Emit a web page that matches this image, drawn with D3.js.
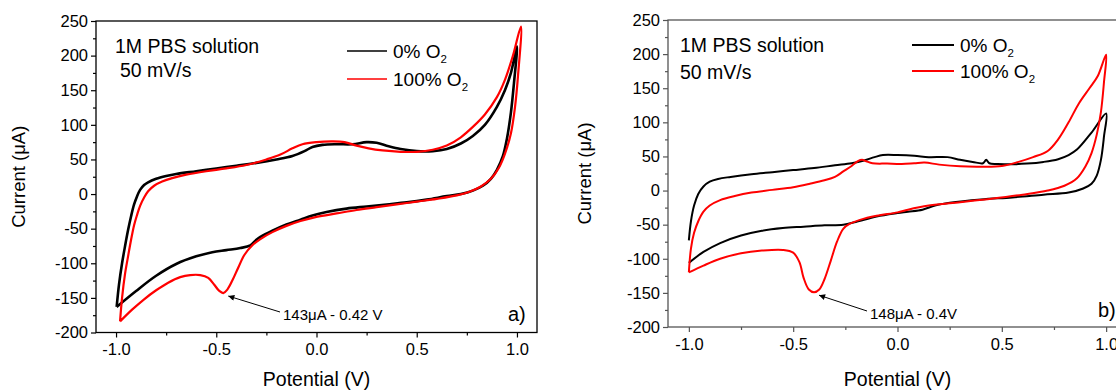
<!DOCTYPE html>
<html>
<head>
<meta charset="utf-8">
<script src="https://cdn.jsdelivr.net/npm/d3@7"></script>
<style>
  body { margin: 0; background: #fff; }
  svg { display: block; font-family: "Liberation Sans", Arial, sans-serif; }
</style>
</head>
<body>
<div id="area"></div>
<script>
// tick values shared by both panels
var xTicks = [-1.0, -0.5, 0.0, 0.5, 1.0];
var xMinor = [-0.75, -0.25, 0.25, 0.75];
var yTicks = [-200, -150, -100, -50, 0, 50, 100, 150, 200, 250];
var yMinor = [-175, -125, -75, -25, 25, 75, 125, 175, 225];

var seriesNames = ["0% O", "100% O"];

// panel a) potential (V), current (uA), one closed sweep each
var a0 = [[-0.997,-163],[-0.985,-130],[-0.97,-100],[-0.955,-75],[-0.94,-52],[-0.925,-32],[-0.91,-15],[-0.895,-3],[-0.88,6],[-0.86,13],[-0.84,17],[-0.8,22],[-0.75,26],[-0.7,29],[-0.6,33],[-0.5,37],[-0.4,41],[-0.3,45],[-0.2,50],[-0.12,55],[-0.06,62],[-0.02,68],[0.03,71],[0.1,72],[0.18,72],[0.25,75],[0.3,74],[0.36,69],[0.42,65],[0.5,62],[0.58,62],[0.65,65],[0.72,73],[0.78,84],[0.84,100],[0.9,126],[0.94,150],[0.97,175],[1.0,213],
  [0.985,160],[0.97,118],[0.95,80],[0.93,55],[0.9,35],[0.87,22],[0.83,12],[0.78,5],[0.72,0],[0.65,-3],[0.55,-8],[0.45,-12],[0.35,-15],[0.25,-18],[0.15,-21],[0.05,-26],[-0.02,-31],[-0.08,-37],[-0.15,-44],[-0.22,-53],[-0.28,-62],[-0.3,-66],[-0.33,-74],[-0.38,-78],[-0.45,-81],[-0.52,-84],[-0.6,-90],[-0.7,-101],[-0.8,-118],[-0.9,-140],[-0.997,-163]];
var a100 = [[-0.98,-184],[-0.97,-150],[-0.955,-115],[-0.94,-90],[-0.925,-66],[-0.91,-45],[-0.895,-30],[-0.88,-17],[-0.86,-5],[-0.84,4],[-0.81,12],[-0.77,18],[-0.72,23],[-0.65,28],[-0.55,33],[-0.45,37],[-0.35,42],[-0.25,50],[-0.18,57],[-0.12,66],[-0.07,72],[0.0,75],[0.08,76],[0.14,75],[0.2,70],[0.26,66],[0.33,63],[0.42,61],[0.5,61],[0.58,64],[0.65,70],[0.72,82],[0.78,97],[0.84,115],[0.9,140],[0.94,165],[0.98,200],[1.02,242],
  [1.005,170],[0.99,125],[0.97,88],[0.94,58],[0.91,38],[0.87,22],[0.82,11],[0.76,3],[0.7,-2],[0.6,-7],[0.5,-11],[0.4,-15],[0.3,-19],[0.2,-23],[0.1,-28],[0.0,-33],[-0.08,-39],[-0.15,-46],[-0.22,-55],[-0.28,-65],[-0.32,-74],[-0.36,-88],[-0.39,-106],[-0.42,-125],[-0.445,-138],[-0.465,-143],[-0.485,-140],[-0.51,-131],[-0.54,-121],[-0.58,-117],[-0.63,-117],[-0.68,-120],[-0.74,-128],[-0.8,-139],[-0.86,-152],[-0.92,-167],[-0.98,-184]];

// panel b)
var b0 = [[-1.0,-73],[-0.99,-45],[-0.975,-22],[-0.955,-5],[-0.93,6],[-0.9,13],[-0.86,17],[-0.8,20],[-0.7,24],[-0.6,27],[-0.5,30],[-0.4,33],[-0.3,37],[-0.22,40],[-0.16,44],[-0.11,49],[-0.07,52],[0.0,52],[0.08,51],[0.15,49],[0.24,49],[0.3,45],[0.36,42],[0.41,40],[0.425,45],[0.44,40],[0.48,39],[0.55,38.5],[0.62,39.5],[0.7,42],[0.77,46],[0.82,52],[0.86,60],[0.93,85],[1.0,113],
  [0.99,80],[0.975,45],[0.955,22],[0.93,10],[0.89,3],[0.82,-3],[0.7,-6],[0.55,-10],[0.4,-13],[0.25,-18],[0.18,-22],[0.12,-28],[0.05,-31],[0.0,-33],[-0.1,-38],[-0.2,-46],[-0.26,-50],[-0.35,-51],[-0.45,-53],[-0.55,-55],[-0.65,-59],[-0.75,-66],[-0.85,-77],[-0.93,-90],[-1.0,-106]];
var b100 = [[-1.0,-120],[-0.99,-85],[-0.975,-62],[-0.955,-45],[-0.93,-31],[-0.9,-22],[-0.85,-14],[-0.78,-8],[-0.7,-3],[-0.6,1],[-0.5,5],[-0.42,10],[-0.35,15],[-0.3,20],[-0.26,28],[-0.22,36],[-0.19,43],[-0.17,45],[-0.15,43],[-0.12,40],[-0.05,39.5],[0.02,39],[0.08,40],[0.13,41],[0.2,38],[0.3,35.5],[0.4,35],[0.5,36],[0.58,42],[0.65,49],[0.72,58],[0.77,75],[0.82,100],[0.87,128],[0.92,150],[0.96,168],[1.0,199],
  [0.99,160],[0.975,115],[0.955,82],[0.93,55],[0.9,35],[0.86,18],[0.8,7],[0.72,0],[0.6,-6],[0.45,-12],[0.3,-17],[0.15,-22],[0.05,-28],[0.0,-32],[-0.1,-37],[-0.18,-43],[-0.23,-49],[-0.26,-56],[-0.29,-75],[-0.32,-103],[-0.35,-130],[-0.375,-145],[-0.4,-149],[-0.425,-145],[-0.45,-128],[-0.47,-105],[-0.5,-91],[-0.55,-87],[-0.65,-88],[-0.75,-92],[-0.85,-100],[-0.93,-110],[-1.0,-120]];

// peaks pointed at by the arrows
var peakA = [-0.465, -143];
var peakB = [-0.4, -149];

var svg = d3.select("#area").append("svg")
  .attr("width", 1116)
  .attr("height", 392);

svg.append("defs").append("marker")
  .attr("id", "arrow")
  .attr("viewBox", "0 0 10 10")
  .attr("refX", 10).attr("refY", 5)
  .attr("markerWidth", 8).attr("markerHeight", 6)
  .attr("markerUnits", "userSpaceOnUse")
  .attr("orient", "auto")
  .append("path").attr("d", "M0,0L10,5L0,10z").attr("fill", "#000");

function drawPanel(p) {
  var x = d3.scaleLinear().domain([-1.1, 1.1]).range([p.left, p.right]);
  var y = d3.scaleLinear().domain([-200, 250]).range([p.bottom, p.top]);
  var g = svg.append("g");

  var lineGen = d3.line()
    .x(function (d) { return x(d[0]); })
    .y(function (d) { return y(d[1]); })
    .curve(d3.curveCatmullRom.alpha(0.5));

  g.append("path").datum(p.black)
    .attr("d", lineGen).attr("fill", "none")
    .attr("stroke", "#000").attr("stroke-width", p.bw).attr("stroke-linejoin", "round");
  g.append("path").datum(p.red)
    .attr("d", lineGen).attr("fill", "none")
    .attr("stroke", "#f00").attr("stroke-width", p.rw).attr("stroke-linejoin", "round");

  // frame
  g.append("rect")
    .attr("x", p.left).attr("y", p.top)
    .attr("width", p.right - p.left).attr("height", p.bottom - p.top)
    .attr("fill", "none").attr("stroke", p.axisColor).attr("stroke-width", 1.3);

  var xAxis = g.append("g").attr("transform", "translate(0," + p.bottom + ")")
    .call(d3.axisBottom(x).tickValues(xTicks).tickSize(5).tickPadding(6).tickFormat(d3.format(".1f")));
  var xAxisMinor = g.append("g").attr("transform", "translate(0," + p.bottom + ")")
    .call(d3.axisBottom(x).tickValues(xMinor).tickSize(3).tickFormat(""));
  var yAxis = g.append("g").attr("transform", "translate(" + p.left + ",0)")
    .call(d3.axisLeft(y).tickValues(yTicks).tickSize(5).tickPadding(3));
  var yAxisMinor = g.append("g").attr("transform", "translate(" + p.left + ",0)")
    .call(d3.axisLeft(y).tickValues(yMinor).tickSize(3).tickFormat(""));

  [xAxis, xAxisMinor, yAxis, yAxisMinor].forEach(function (a) {
    a.select(".domain").remove();
    a.selectAll("line").attr("stroke", p.axisColor).attr("stroke-width", 1.2);
    a.selectAll("text").attr("fill", "#000").style("font-size", "16.5px")
      .style("font-family", "'Liberation Sans', Arial, sans-serif")
      .text(function (d) { return d3.select(this).text().replace("−", "-"); });
  });

  // axis titles
  g.append("text")
    .attr("transform", "translate(" + p.yTitleX + "," + (p.top + p.bottom) / 2 + ") rotate(-90)")
    .attr("text-anchor", "middle").attr("dy", "0.35em")
    .style("font-size", "18.5px").text("Current (μA)");
  g.append("text")
    .attr("x", x(0)).attr("y", 386)
    .attr("text-anchor", "middle")
    .style("font-size", "19.5px").text("Potential (V)");

  // annotation text
  g.append("text").attr("x", p.noteX).attr("y", p.noteY1)
    .style("font-size", "19.5px").text("1M PBS solution");
  g.append("text").attr("x", p.noteX2).attr("y", p.noteY2)
    .style("font-size", "19.5px").text("50 mV/s");

  // legend
  var colors = ["#000", "#f00"];
  seriesNames.forEach(function (name, i) {
    var ly = p.legY[i];
    g.append("line")
      .attr("x1", p.legX).attr("x2", p.legX + p.legLen)
      .attr("y1", ly).attr("y2", ly)
      .attr("stroke", colors[i]).attr("stroke-width", p.legW);
    var t = g.append("text")
      .attr("x", p.legX + p.legLen + 6).attr("y", ly + 7)
      .style("font-size", "19px").text(name);
    t.append("tspan").attr("dy", 5).style("font-size", "11.5px").text("2");
  });

  // panel letter
  g.append("text").attr("x", p.letterX).attr("y", p.letterY)
    .style("font-size", "20px").text(p.letter);

  // peak arrow + label
  g.append("line")
    .attr("x1", p.arrowFrom[0]).attr("y1", p.arrowFrom[1])
    .attr("x2", x(p.peak[0]) + 5).attr("y2", y(p.peak[1]) + 3)
    .attr("stroke", "#000").attr("stroke-width", 1)
    .attr("marker-end", "url(#arrow)");
  g.append("text").attr("x", p.arrowFrom[0] + 3).attr("y", p.arrowFrom[1] + 8)
    .style("font-size", "15px").text(p.peakLabel);
}

drawPanel({
  left: 96, right: 537, top: 21, bottom: 332.5,
  black: a0, red: a100, bw: 2.6, rw: 2.2, axisColor: "#000",
  yTitleX: 19,
  noteX: 115, noteY1: 53, noteX2: 120, noteY2: 77,
  legX: 347, legLen: 40, legY: [51, 79], legW: 1.4,
  letter: "a)", letterX: 508, letterY: 321,
  peak: peakA, peakLabel: "143μA - 0.42 V", arrowFrom: [280, 312]
});

drawPanel({
  left: 668, right: 1127, top: 20, bottom: 327,
  black: b0, red: b100, bw: 2, rw: 2, axisColor: "#555",
  yTitleX: 585,
  noteX: 680, noteY1: 52, noteX2: 680, noteY2: 79,
  legX: 912, legLen: 42, legY: [45, 71], legW: 2.2,
  letter: "b)", letterX: 1098, letterY: 317,
  peak: peakB, peakLabel: "148μA - 0.4V", arrowFrom: [867, 311]
});
</script>
</body>
</html>
